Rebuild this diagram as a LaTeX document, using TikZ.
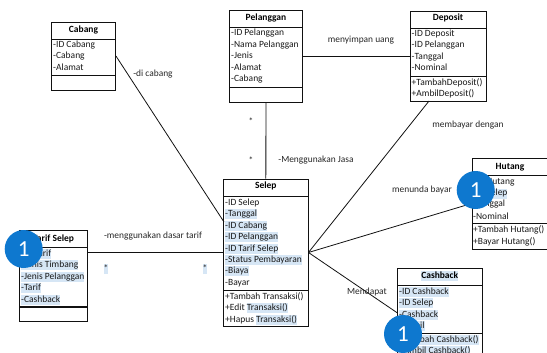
\documentclass[tikz,border=0pt]{standalone}
\usepackage{fontspec}
\setmainfont{Carlito}
\definecolor{hlblue}{HTML}{D6E6F5}
\definecolor{badgeblue}{HTML}{0E78CF}
\definecolor{umlline}{HTML}{111111}
\newcommand{\hlt}[1]{{\setlength{\fboxsep}{0pt}\colorbox{hlblue}{\strut #1}}}
\tikzset{
    classbox/.style={draw=umlline, line width=0.9pt, inner sep=0pt},
    classtitle/.style={font=\fontsize{9.5}{10}\selectfont\bfseries, inner sep=0pt, text height=7pt, text depth=3pt},
    member/.style={font=\fontsize{9.5}{10}\selectfont, anchor=west, inner sep=0pt, text=black!90, text height=7pt, text depth=3pt},
    assoc/.style={draw=umlline, line width=0.8pt},
    lbl/.style={font=\fontsize{9.4}{10}\selectfont, text=black!85, inner sep=0pt},
    badge/.style={circle, fill=badgeblue, minimum size=38pt, inner sep=0pt, text=white, font=\fontsize{23}{24}\selectfont}
}
\begin{document}
\begin{tikzpicture}[x=1pt,y=-1pt]
    \useasboundingbox (0,0) rectangle (547,353);
    \clip (0,0) rectangle (547,353);
    % Cabang
    \node [classbox, minimum width=64pt, minimum height=68pt] (cabang) at (83.5,56) {};
    \draw [classbox] (51.5,39) -- (115.5,39);
    \draw [classbox] (51.5,75.5) -- (115.5,75.5);
    \node [classtitle] (cabangT) at (83.5,30.5) {Cabang};
    \node [member] (cabang1) at (53,46) {-ID Cabang};
    \node [member] (cabang2) at (53,57) {-Cabang};
    \node [member] (cabang3) at (53,69) {-Alamat};
    % Pelanggan
    \node [classbox, minimum width=73pt, minimum height=92pt] (pelanggan) at (266,56) {};
    \draw [classbox] (229.5,27) -- (302.5,27);
    \draw [classbox] (229.5,87) -- (302.5,87);
    \node [classtitle] (pelangganT) at (266,19) {Pelanggan};
    \node [member] (pelanggan1) at (231,34) {-ID Pelanggan};
    \node [member] (pelanggan2) at (231,46) {-Nama Pelanggan};
    \node [member] (pelanggan3) at (231,57) {-Jenis};
    \node [member] (pelanggan4) at (231,69) {-Alamat};
    \node [member] (pelanggan5) at (231,80) {-Cabang};
    % Deposit
    \node [classbox, minimum width=76pt, minimum height=90pt] (deposit) at (448,56) {};
    \draw [classbox] (410,28) -- (486,28);
    \draw [classbox] (410,76) -- (486,76);
    \node [classtitle] (depositT) at (448,19) {Deposit};
    \node [member] (deposit1) at (411.5,35) {-ID Deposit};
    \node [member] (deposit2) at (411.5,46) {-ID Pelanggan};
    \node [member] (deposit3) at (411.5,58) {-Tanggal};
    \node [member] (deposit4) at (411.5,69) {-Nominal};
    \node [member] (deposit5) at (411.5,83) {+TambahDeposit()};
    \node [member] (deposit6) at (411.5,95) {+AmbilDeposit()};
    % Hutang
    \node [classbox, minimum width=80pt, minimum height=91pt] (hutang) at (512,203.5) {};
    \draw [classbox] (472,175) -- (552,175);
    \draw [classbox] (472,223) -- (552,223);
    \node [classtitle] (hutangT) at (510,167) {Hutang};
    \node [member] (hutang1) at (473,182) {-ID Hutang};
    \node [member] (hutang2) at (473,194) {-\hlt{ID Selep}};
    \node [member] (hutang3) at (473,205) {-Tanggal};
    \node [member] (hutang4) at (473,217) {-Nominal};
    \node [member] (hutang5) at (473,230) {+Tambah Hutang()};
    \node [member] (hutang6) at (473,242) {+Bayar Hutang()};
    % Selep
    \node [classbox, minimum width=84.5pt, minimum height=147pt] (selep) at (265.75,252.5) {};
    \draw [classbox] (223.5,196) -- (308,196);
    \draw [classbox] (223.5,290) -- (308,290);
    \node [classtitle] (selepT) at (265.75,187) {Selep};
    \node [member] (selep1) at (225,203) {-ID Selep};
    \node [member] (selep2) at (225,214) {\hlt{-Tanggal}};
    \node [member] (selep3) at (225,226) {\hlt{-ID Cabang}};
    \node [member] (selep4) at (225,237) {\hlt{-ID Pelanggan}};
    \node [member] (selep5) at (225,249) {\hlt{-ID Tarif Selep}};
    \node [member] (selep6) at (225,260) {\hlt{-Status Pembayaran}};
    \node [member] (selep7) at (225,271) {\hlt{-Biaya}};
    \node [member] (selep8) at (225,283) {-Bayar};
    \node [member] (selep9) at (225,297) {+Tambah Transaksi()};
    \node [member] (selep10) at (225,308) {+Edit \hlt{Transaksi()}};
    \node [member] (selep11) at (225,320) {+Hapus \hlt{Transaksi()}};
    % Tarif Selep
    \node [classbox, minimum width=68pt, minimum height=91pt] (tarif) at (53.5,275.5) {};
    \draw [classbox] (19.5,247) -- (87.5,247);
    \draw [classbox, line width=1.4pt] (19.5,307) -- (87.5,307);
    \node [classtitle] (tarifT) at (53.5,239) {Tarif Selep};
    \node [member] (tarif1) at (21,254) {\hlt{-ID Tarif}};
    \node [member] (tarif2) at (21,265) {\hlt{-Jenis Timbang}};
    \node [member] (tarif3) at (21,277) {\hlt{-Jenis Pelanggan}};
    \node [member] (tarif4) at (21,288) {\hlt{-Tarif}};
    \node [member] (tarif5) at (21,300) {\hlt{-Cashback}};
    % Cashback
    \node [classbox, minimum width=84.5pt, minimum height=100pt] (cashback) at (439.75,318) {};
    \draw [classbox] (397.5,285) -- (482,285);
    \draw [classbox] (397.5,333) -- (482,333);
    \node [classtitle] (cashbackT) at (439.75,276) {\hlt{Cashback}};
    \node [member] (cashback1) at (399,292) {\hlt{-ID Cashback}};
    \node [member] (cashback2) at (399,303) {\hlt{-ID Selep}};
    \node [member] (cashback3) at (399,315) {\hlt{-Cashback}};
    \node [member] (cashback4) at (399,326) {\hlt{-Ambil}};
    \node [member] (cashback5) at (399,340) {+\hlt{Tambah Cashback()}};
    \node [member] (cashback6) at (399,351) {+\hlt{Ambil Cashback()}};
    % connectors
    \coordinate (selepHub) at (selep.east);
    \coordinate (selepIn) at (224,222);
    \coordinate (depositOut) at (429,101);
    \coordinate (tarifOut) at (tarif.east |- selep.west);
    \coordinate (cashbackIn) at (397.5,313);
    \draw [assoc] (cabang.east) -- (selepIn);
    \draw [assoc] (pelanggan) -- (selep);
    \draw [assoc] (pelanggan.east) -- (deposit.west);
    \draw [assoc] (depositOut) -- (selepHub);
    \draw [assoc] (selepHub) -- (hutang.west);
    \draw [assoc] (selepHub) -- (cashbackIn);
    \draw [assoc, line width=1.1pt] (tarifOut) -- (selep.west);
    % labels
    \node [lbl] (lblCabang) at (153,74) {-di cabang};
    \node [lbl] (lblUang) at (361,40) {menyimpan uang};
    \node [lbl] (lblBayar) at (468,125) {membayar dengan};
    \node [lbl] (lblJasa) at (316,160) {-Menggunakan Jasa};
    \node [lbl] (lblTunda) at (422,190) {menunda bayar};
    \node [lbl] (lblDapat) at (367,292) {Mendapat};
    \node [lbl] (lblTarif) at (153,236) {-menggunakan dasar tarif};
    \node [lbl] (star1) at (251,121) {*};
    \node [lbl] (star2) at (251,160) {*};
    \node [lbl] (star3) at (106,269) {\hlt{*}};
    \node [lbl] (star4) at (205,269) {\hlt{*}};
    % badges
    \node [badge] (badge1) at (23.7,249) {1};
    \node [badge] (badge2) at (475.7,190) {1};
    \node [badge] (badge3) at (403,334) {1};
\end{tikzpicture}
\end{document}
